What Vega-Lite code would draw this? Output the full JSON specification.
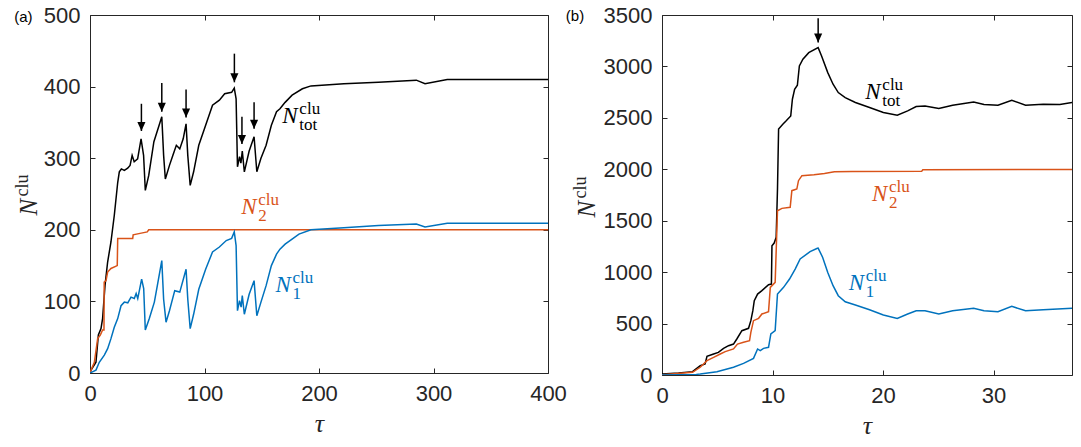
{
  "$schema": "https://vega.github.io/schema/vega-lite/v6.json",
  "padding": {"left": 14, "top": 4, "right": 0, "bottom": 0},
  "spacing": -2,
  "config": {
    "view": {"stroke": null},
    "axis": {
      "domainColor": "#262626", "tickColor": "#262626", "labelColor": "#262626",
      "labelFont": "Liberation Sans", "labelFontSize": 22, "tickSize": -5, "labelPadding": 15,
      "grid": false, "labelFlush": false, "labelOverlap": false, "domainWidth": 1, "tickWidth": 1,
      "titleFont": "Liberation Serif", "titleFontStyle": "italic", "titleFontWeight": "normal", "titleFontSize": 26, "titleColor": "#262626"
    }
  },
  "datasets": {
    "la": [
      {"t":0,"v":0,"s":"tot"},{"t":0.9,"v":4,"s":"tot"},{"t":5.2,"v":15,"s":"tot"},{"t":7.3,"v":53,"s":"tot"},{"t":9.6,"v":62,"s":"tot"},{"t":11,"v":76,"s":"tot"},{"t":13.1,"v":122,"s":"tot"},{"t":15.4,"v":155,"s":"tot"},{"t":18.3,"v":183,"s":"tot"},{"t":21.2,"v":220,"s":"tot"},{"t":22.7,"v":243,"s":"tot"},{"t":24.2,"v":266,"s":"tot"},{"t":25.6,"v":281,"s":"tot"},{"t":27.4,"v":285,"s":"tot"},{"t":30,"v":283,"s":"tot"},{"t":32.9,"v":286,"s":"tot"},{"t":35,"v":290,"s":"tot"},{"t":36.8,"v":304,"s":"tot"},{"t":38.6,"v":295,"s":"tot"},{"t":41.6,"v":299,"s":"tot"},{"t":44.6,"v":327,"s":"tot"},{"t":46.8,"v":304,"s":"tot"},{"t":48.3,"v":255,"s":"tot"},{"t":51.3,"v":276,"s":"tot"},{"t":55.8,"v":323,"s":"tot"},{"t":59.4,"v":341,"s":"tot"},{"t":62.7,"v":358,"s":"tot"},{"t":64.3,"v":304,"s":"tot"},{"t":65.8,"v":271,"s":"tot"},{"t":69.4,"v":290,"s":"tot"},{"t":72.4,"v":304,"s":"tot"},{"t":75.4,"v":318,"s":"tot"},{"t":78.4,"v":313,"s":"tot"},{"t":81.4,"v":327,"s":"tot"},{"t":83.9,"v":348,"s":"tot"},{"t":85.4,"v":304,"s":"tot"},{"t":87.5,"v":262,"s":"tot"},{"t":90.5,"v":281,"s":"tot"},{"t":95,"v":318,"s":"tot"},{"t":101,"v":346,"s":"tot"},{"t":107,"v":374,"s":"tot"},{"t":113,"v":381,"s":"tot"},{"t":117.6,"v":390,"s":"tot"},{"t":123.7,"v":392,"s":"tot"},{"t":126,"v":398,"s":"tot"},{"t":127.6,"v":383,"s":"tot"},{"t":128.8,"v":288,"s":"tot"},{"t":130.6,"v":302,"s":"tot"},{"t":131.8,"v":293,"s":"tot"},{"t":133,"v":310,"s":"tot"},{"t":134.8,"v":281,"s":"tot"},{"t":139,"v":310,"s":"tot"},{"t":143.3,"v":330,"s":"tot"},{"t":145.7,"v":281,"s":"tot"},{"t":149.3,"v":300,"s":"tot"},{"t":153.8,"v":318,"s":"tot"},{"t":158.4,"v":346,"s":"tot"},{"t":162.9,"v":365,"s":"tot"},{"t":165.9,"v":369,"s":"tot"},{"t":170.4,"v":378,"s":"tot"},{"t":176.5,"v":388,"s":"tot"},{"t":185.5,"v":397,"s":"tot"},{"t":193,"v":401,"s":"tot"},{"t":221.7,"v":404,"s":"tot"},{"t":251.9,"v":406,"s":"tot"},{"t":285,"v":409,"s":"tot"},{"t":292.6,"v":404,"s":"tot"},{"t":312,"v":410,"s":"tot"},{"t":400,"v":410,"s":"tot"},
      {"t":0,"v":0,"s":"two"},{"t":0.9,"v":4,"s":"two"},{"t":3.8,"v":15,"s":"two"},{"t":6.7,"v":48,"s":"two"},{"t":9,"v":53,"s":"two"},{"t":11,"v":60,"s":"two"},{"t":12.2,"v":60,"s":"two"},{"t":12.4,"v":127,"s":"two"},{"t":14,"v":129,"s":"two"},{"t":15.4,"v":141,"s":"two"},{"t":18.3,"v":146,"s":"two"},{"t":23.8,"v":150,"s":"two"},{"t":24.2,"v":188,"s":"two"},{"t":37.3,"v":188,"s":"two"},{"t":37.7,"v":193,"s":"two"},{"t":43.7,"v":195,"s":"two"},{"t":50,"v":197,"s":"two"},{"t":51.3,"v":200,"s":"two"},{"t":400,"v":200,"s":"two"},
      {"t":0,"v":0,"s":"one"},{"t":5.2,"v":4,"s":"one"},{"t":8.1,"v":15,"s":"one"},{"t":12.5,"v":25,"s":"one"},{"t":15.4,"v":34,"s":"one"},{"t":18.3,"v":48,"s":"one"},{"t":21.2,"v":64,"s":"one"},{"t":24.2,"v":76,"s":"one"},{"t":27.1,"v":94,"s":"one"},{"t":30,"v":99,"s":"one"},{"t":33,"v":98,"s":"one"},{"t":35.8,"v":106,"s":"one"},{"t":38.7,"v":104,"s":"one"},{"t":40.3,"v":111,"s":"one"},{"t":41.7,"v":104,"s":"one"},{"t":45.1,"v":131,"s":"one"},{"t":46.9,"v":118,"s":"one"},{"t":48.3,"v":60,"s":"one"},{"t":51.8,"v":76,"s":"one"},{"t":56.2,"v":99,"s":"one"},{"t":58.8,"v":122,"s":"one"},{"t":62.7,"v":157,"s":"one"},{"t":64.3,"v":103,"s":"one"},{"t":66.4,"v":71,"s":"one"},{"t":69.4,"v":87,"s":"one"},{"t":74,"v":115,"s":"one"},{"t":78.4,"v":113,"s":"one"},{"t":83.9,"v":145,"s":"one"},{"t":85.4,"v":103,"s":"one"},{"t":87.5,"v":62,"s":"one"},{"t":90.5,"v":82,"s":"one"},{"t":95,"v":117,"s":"one"},{"t":101,"v":145,"s":"one"},{"t":107,"v":169,"s":"one"},{"t":113,"v":176,"s":"one"},{"t":119,"v":185,"s":"one"},{"t":123.7,"v":188,"s":"one"},{"t":126,"v":197,"s":"one"},{"t":127.6,"v":178,"s":"one"},{"t":128.8,"v":87,"s":"one"},{"t":130.6,"v":101,"s":"one"},{"t":132,"v":92,"s":"one"},{"t":133,"v":108,"s":"one"},{"t":134.8,"v":82,"s":"one"},{"t":139,"v":110,"s":"one"},{"t":143.3,"v":129,"s":"one"},{"t":145.7,"v":80,"s":"one"},{"t":149.3,"v":99,"s":"one"},{"t":153.8,"v":122,"s":"one"},{"t":158.4,"v":150,"s":"one"},{"t":162.9,"v":166,"s":"one"},{"t":165.9,"v":173,"s":"one"},{"t":170.4,"v":180,"s":"one"},{"t":176.5,"v":187,"s":"one"},{"t":182.5,"v":194,"s":"one"},{"t":193,"v":200,"s":"one"},{"t":221.7,"v":203,"s":"one"},{"t":251.9,"v":206,"s":"one"},{"t":285,"v":208,"s":"one"},{"t":292.6,"v":204,"s":"one"},{"t":312,"v":209,"s":"one"},{"t":400,"v":209,"s":"one"}
    ],
    "lb": [
      {"t":0,"v":10,"s":"tot"},{"t":1.5,"v":20,"s":"tot"},{"t":2.76,"v":32,"s":"tot"},{"t":3.46,"v":90,"s":"tot"},{"t":3.9,"v":107,"s":"tot"},{"t":4.07,"v":181,"s":"tot"},{"t":4.67,"v":204,"s":"tot"},{"t":5.1,"v":220,"s":"tot"},{"t":5.57,"v":259,"s":"tot"},{"t":6.02,"v":285,"s":"tot"},{"t":6.47,"v":301,"s":"tot"},{"t":6.77,"v":350,"s":"tot"},{"t":7.23,"v":431,"s":"tot"},{"t":7.83,"v":454,"s":"tot"},{"t":8.04,"v":528,"s":"tot"},{"t":8.22,"v":625,"s":"tot"},{"t":8.35,"v":722,"s":"tot"},{"t":8.65,"v":787,"s":"tot"},{"t":9.04,"v":820,"s":"tot"},{"t":9.64,"v":878,"s":"tot"},{"t":9.9,"v":884,"s":"tot"},{"t":9.95,"v":1257,"s":"tot"},{"t":10.15,"v":1283,"s":"tot"},{"t":10.33,"v":1339,"s":"tot"},{"t":10.45,"v":1808,"s":"tot"},{"t":10.55,"v":2392,"s":"tot"},{"t":10.93,"v":2438,"s":"tot"},{"t":11.24,"v":2471,"s":"tot"},{"t":11.65,"v":2519,"s":"tot"},{"t":11.8,"v":2681,"s":"tot"},{"t":12.0,"v":2778,"s":"tot"},{"t":12.25,"v":2817,"s":"tot"},{"t":12.43,"v":3005,"s":"tot"},{"t":12.75,"v":3070,"s":"tot"},{"t":13.28,"v":3134,"s":"tot"},{"t":14.13,"v":3183,"s":"tot"},{"t":14.44,"v":3102,"s":"tot"},{"t":15,"v":2940,"s":"tot"},{"t":15.48,"v":2827,"s":"tot"},{"t":15.95,"v":2746,"s":"tot"},{"t":16.58,"v":2697,"s":"tot"},{"t":17.5,"v":2649,"s":"tot"},{"t":18.78,"v":2600,"s":"tot"},{"t":20.03,"v":2552,"s":"tot"},{"t":21.29,"v":2526,"s":"tot"},{"t":22.23,"v":2568,"s":"tot"},{"t":23,"v":2610,"s":"tot"},{"t":23.8,"v":2616,"s":"tot"},{"t":25.05,"v":2590,"s":"tot"},{"t":26.3,"v":2623,"s":"tot"},{"t":28.2,"v":2655,"s":"tot"},{"t":29.14,"v":2629,"s":"tot"},{"t":30.4,"v":2623,"s":"tot"},{"t":31.65,"v":2671,"s":"tot"},{"t":32.9,"v":2623,"s":"tot"},{"t":34.5,"v":2633,"s":"tot"},{"t":36,"v":2629,"s":"tot"},{"t":37.1,"v":2649,"s":"tot"},
      {"t":0,"v":3,"s":"two"},{"t":2.76,"v":26,"s":"two"},{"t":3.46,"v":75,"s":"two"},{"t":4.07,"v":139,"s":"two"},{"t":4.67,"v":172,"s":"two"},{"t":5.27,"v":204,"s":"two"},{"t":5.72,"v":227,"s":"two"},{"t":6.47,"v":253,"s":"two"},{"t":6.83,"v":301,"s":"two"},{"t":7.38,"v":318,"s":"two"},{"t":7.92,"v":334,"s":"two"},{"t":8.04,"v":415,"s":"two"},{"t":8.28,"v":528,"s":"two"},{"t":8.74,"v":551,"s":"two"},{"t":9.04,"v":593,"s":"two"},{"t":9.64,"v":616,"s":"two"},{"t":9.8,"v":852,"s":"two"},{"t":10.24,"v":901,"s":"two"},{"t":10.45,"v":1597,"s":"two"},{"t":10.85,"v":1620,"s":"two"},{"t":11.6,"v":1630,"s":"two"},{"t":11.75,"v":1792,"s":"two"},{"t":12.2,"v":1808,"s":"two"},{"t":12.35,"v":1889,"s":"two"},{"t":12.66,"v":1938,"s":"two"},{"t":13.75,"v":1946,"s":"two"},{"t":14.7,"v":1959,"s":"two"},{"t":15.6,"v":1975,"s":"two"},{"t":17.2,"v":1979,"s":"two"},{"t":23.5,"v":1982,"s":"two"},{"t":23.6,"v":1995,"s":"two"},{"t":37.1,"v":1998,"s":"two"},
      {"t":0,"v":0,"s":"one"},{"t":3.1,"v":6,"s":"one"},{"t":3.46,"v":10,"s":"one"},{"t":4.97,"v":32,"s":"one"},{"t":6.47,"v":75,"s":"one"},{"t":7.38,"v":113,"s":"one"},{"t":8.28,"v":162,"s":"one"},{"t":8.65,"v":253,"s":"one"},{"t":8.89,"v":237,"s":"one"},{"t":9.19,"v":259,"s":"one"},{"t":9.64,"v":269,"s":"one"},{"t":9.85,"v":399,"s":"one"},{"t":10.24,"v":431,"s":"one"},{"t":10.45,"v":787,"s":"one"},{"t":11,"v":852,"s":"one"},{"t":11.54,"v":933,"s":"one"},{"t":12.05,"v":1030,"s":"one"},{"t":12.5,"v":1128,"s":"one"},{"t":13.4,"v":1199,"s":"one"},{"t":14.06,"v":1232,"s":"one"},{"t":14.13,"v":1234,"s":"one"},{"t":14.54,"v":1143,"s":"one"},{"t":15,"v":997,"s":"one"},{"t":15.48,"v":868,"s":"one"},{"t":15.95,"v":771,"s":"one"},{"t":16.58,"v":712,"s":"one"},{"t":17.5,"v":680,"s":"one"},{"t":18.78,"v":635,"s":"one"},{"t":20.03,"v":583,"s":"one"},{"t":21.29,"v":550,"s":"one"},{"t":22.23,"v":593,"s":"one"},{"t":23,"v":625,"s":"one"},{"t":23.8,"v":625,"s":"one"},{"t":25.05,"v":593,"s":"one"},{"t":26.3,"v":625,"s":"one"},{"t":28.2,"v":648,"s":"one"},{"t":29.14,"v":625,"s":"one"},{"t":30.4,"v":615,"s":"one"},{"t":31.65,"v":667,"s":"one"},{"t":32.9,"v":625,"s":"one"},{"t":34.5,"v":635,"s":"one"},{"t":37.1,"v":648,"s":"one"}
    ],
    "arrA": [
      {"t":44.9,"tail":376,"tip":338},{"t":62.7,"tail":405,"tip":365},{"t":83.9,"tail":396,"tip":357},
      {"t":126.1,"tail":446,"tip":406},{"t":132.7,"tail":358,"tip":320},{"t":143.3,"tail":378,"tip":341}
    ],
    "arrB": [{"t":14.13,"tail":3468,"tip":3232}],
    "labA": [
      {"t":168,"v":349,"s":"tot","sub":"tot"},{"t":132,"v":222,"s":"two","sub":"2"},{"t":162,"v":113,"s":"one","sub":"1"}
    ],
    "labB": [
      {"t":18.4,"v":2681,"s":"tot","sub":"tot"},{"t":19.0,"v":1687,"s":"two","sub":"2"},{"t":16.9,"v":826,"s":"one","sub":"1"}
    ],
    "ytA": [{"t":-46.2,"v":220}],
    "ytB": [{"t":-6.09,"v":1532}],
    "tagA": [{"t":-66.2,"v":497,"tag":"(a)"}],
    "tagB": [{"t":-8.7,"v":3490,"tag":"(b)"}]
  },
  "hconcat": [
    {
      "width": 458, "height": 358,
      "layer": [
        {
          "data": {"name": "la"},
          "mark": {"type": "line", "strokeWidth": 1.5, "clip": true},
          "encoding": {
            "x": {"field": "t", "type": "quantitative", "scale": {"domain": [0, 400], "nice": false},
                  "axis": {"orient": "bottom", "values": [0, 100, 200, 300, 400], "title": "τ", "titlePadding": 6}},
            "y": {"field": "v", "type": "quantitative", "scale": {"domain": [0, 500], "nice": false},
                  "axis": {"orient": "left", "values": [0, 100, 200, 300, 400, 500], "title": null}},
            "color": {"field": "s", "type": "nominal", "scale": {"domain": ["tot", "one", "two"], "range": ["#000000", "#0072BD", "#D95319"]}, "legend": null}
          }
        },
        {
          "data": {"name": "arrA"},
          "mark": {"type": "rule", "strokeWidth": 1.5, "color": "#000000"},
          "encoding": {
            "x": {"field": "t", "type": "quantitative", "axis": {"orient": "top", "values": [0, 100, 200, 300, 400], "labels": false, "title": null}},
            "y": {"field": "tail", "type": "quantitative", "axis": {"orient": "right", "values": [0, 100, 200, 300, 400, 500], "labels": false, "title": null}},
            "y2": {"field": "tip"}
          }
        },
        {
          "data": {"name": "arrA"},
          "mark": {"type": "point", "shape": "M-0.45,-1L0.45,-1L0,0Z", "filled": true, "color": "#000000", "size": 324, "opacity": 1, "strokeWidth": 0},
          "encoding": {
            "x": {"field": "t", "type": "quantitative", "axis": null},
            "y": {"field": "tip", "type": "quantitative", "axis": null}
          }
        },
        {
          "data": {"name": "labA"},
          "mark": {"type": "text", "text": "N", "font": "Liberation Serif", "fontStyle": "italic", "fontSize": 23, "align": "left", "baseline": "alphabetic"},
          "encoding": {
            "x": {"field": "t", "type": "quantitative", "axis": null},
            "y": {"field": "v", "type": "quantitative", "axis": null},
            "color": {"field": "s", "type": "nominal", "legend": null}
          }
        },
        {
          "data": {"name": "labA"},
          "mark": {"type": "text", "text": "clu", "font": "Liberation Serif", "fontSize": 17, "align": "left", "baseline": "alphabetic", "dx": 17, "dy": -9},
          "encoding": {
            "x": {"field": "t", "type": "quantitative", "axis": null},
            "y": {"field": "v", "type": "quantitative", "axis": null},
            "color": {"field": "s", "type": "nominal", "legend": null}
          }
        },
        {
          "data": {"name": "labA"},
          "mark": {"type": "text", "font": "Liberation Serif", "fontSize": 17, "align": "left", "baseline": "alphabetic", "dx": 17, "dy": 7},
          "encoding": {
            "x": {"field": "t", "type": "quantitative", "axis": null},
            "y": {"field": "v", "type": "quantitative", "axis": null},
            "text": {"field": "sub"},
            "color": {"field": "s", "type": "nominal", "legend": null}
          }
        },
        {
          "data": {"name": "ytA"},
          "mark": {"type": "text", "text": "N", "font": "Liberation Serif", "fontStyle": "italic", "fontSize": 25, "align": "left", "baseline": "alphabetic", "angle": 270, "color": "#262626"},
          "encoding": {
            "x": {"field": "t", "type": "quantitative", "axis": null},
            "y": {"field": "v", "type": "quantitative", "axis": null}
          }
        },
        {
          "data": {"name": "ytA"},
          "mark": {"type": "text", "text": "clu", "font": "Liberation Serif", "fontSize": 18, "align": "left", "baseline": "alphabetic", "angle": 270, "dx": 19, "dy": -9, "color": "#262626"},
          "encoding": {
            "x": {"field": "t", "type": "quantitative", "axis": null},
            "y": {"field": "v", "type": "quantitative", "axis": null}
          }
        },
        {
          "data": {"name": "tagA"},
          "mark": {"type": "text", "font": "Liberation Sans", "fontSize": 15, "align": "left", "baseline": "middle", "color": "#000000"},
          "encoding": {
            "x": {"field": "t", "type": "quantitative", "axis": null},
            "y": {"field": "v", "type": "quantitative", "axis": null},
            "text": {"field": "tag"}
          }
        }
      ],
      "resolve": {"axis": {"x": "independent", "y": "independent"}}
    },
    {
      "width": 410, "height": 360,
      "layer": [
        {
          "data": {"name": "lb"},
          "mark": {"type": "line", "strokeWidth": 1.5, "clip": true},
          "encoding": {
            "x": {"field": "t", "type": "quantitative", "scale": {"domain": [0, 37.1], "nice": false},
                  "axis": {"orient": "bottom", "values": [0, 10, 20, 30], "title": "τ", "titlePadding": 6}},
            "y": {"field": "v", "type": "quantitative", "scale": {"domain": [0, 3500], "nice": false},
                  "axis": {"orient": "left", "values": [0, 500, 1000, 1500, 2000, 2500, 3000, 3500], "format": "d", "title": null}},
            "color": {"field": "s", "type": "nominal", "scale": {"domain": ["tot", "one", "two"], "range": ["#000000", "#0072BD", "#D95319"]}, "legend": null}
          }
        },
        {
          "data": {"name": "arrB"},
          "mark": {"type": "rule", "strokeWidth": 1.5, "color": "#000000"},
          "encoding": {
            "x": {"field": "t", "type": "quantitative", "axis": {"orient": "top", "values": [0, 10, 20, 30], "labels": false, "title": null}},
            "y": {"field": "tail", "type": "quantitative", "axis": {"orient": "right", "values": [0, 500, 1000, 1500, 2000, 2500, 3000, 3500], "labels": false, "title": null}},
            "y2": {"field": "tip"}
          }
        },
        {
          "data": {"name": "arrB"},
          "mark": {"type": "point", "shape": "M-0.45,-1L0.45,-1L0,0Z", "filled": true, "color": "#000000", "size": 324, "opacity": 1, "strokeWidth": 0},
          "encoding": {
            "x": {"field": "t", "type": "quantitative", "axis": null},
            "y": {"field": "tip", "type": "quantitative", "axis": null}
          }
        },
        {
          "data": {"name": "labB"},
          "mark": {"type": "text", "text": "N", "font": "Liberation Serif", "fontStyle": "italic", "fontSize": 23, "align": "left", "baseline": "alphabetic"},
          "encoding": {
            "x": {"field": "t", "type": "quantitative", "axis": null},
            "y": {"field": "v", "type": "quantitative", "axis": null},
            "color": {"field": "s", "type": "nominal", "legend": null}
          }
        },
        {
          "data": {"name": "labB"},
          "mark": {"type": "text", "text": "clu", "font": "Liberation Serif", "fontSize": 17, "align": "left", "baseline": "alphabetic", "dx": 17, "dy": -9},
          "encoding": {
            "x": {"field": "t", "type": "quantitative", "axis": null},
            "y": {"field": "v", "type": "quantitative", "axis": null},
            "color": {"field": "s", "type": "nominal", "legend": null}
          }
        },
        {
          "data": {"name": "labB"},
          "mark": {"type": "text", "font": "Liberation Serif", "fontSize": 17, "align": "left", "baseline": "alphabetic", "dx": 17, "dy": 7},
          "encoding": {
            "x": {"field": "t", "type": "quantitative", "axis": null},
            "y": {"field": "v", "type": "quantitative", "axis": null},
            "text": {"field": "sub"},
            "color": {"field": "s", "type": "nominal", "legend": null}
          }
        },
        {
          "data": {"name": "ytB"},
          "mark": {"type": "text", "text": "N", "font": "Liberation Serif", "fontStyle": "italic", "fontSize": 25, "align": "left", "baseline": "alphabetic", "angle": 270, "color": "#262626"},
          "encoding": {
            "x": {"field": "t", "type": "quantitative", "axis": null},
            "y": {"field": "v", "type": "quantitative", "axis": null}
          }
        },
        {
          "data": {"name": "ytB"},
          "mark": {"type": "text", "text": "clu", "font": "Liberation Serif", "fontSize": 18, "align": "left", "baseline": "alphabetic", "angle": 270, "dx": 19, "dy": -9, "color": "#262626"},
          "encoding": {
            "x": {"field": "t", "type": "quantitative", "axis": null},
            "y": {"field": "v", "type": "quantitative", "axis": null}
          }
        },
        {
          "data": {"name": "tagB"},
          "mark": {"type": "text", "font": "Liberation Sans", "fontSize": 15, "align": "left", "baseline": "middle", "color": "#000000"},
          "encoding": {
            "x": {"field": "t", "type": "quantitative", "axis": null},
            "y": {"field": "v", "type": "quantitative", "axis": null},
            "text": {"field": "tag"}
          }
        }
      ],
      "resolve": {"axis": {"x": "independent", "y": "independent"}}
    }
  ]
}
